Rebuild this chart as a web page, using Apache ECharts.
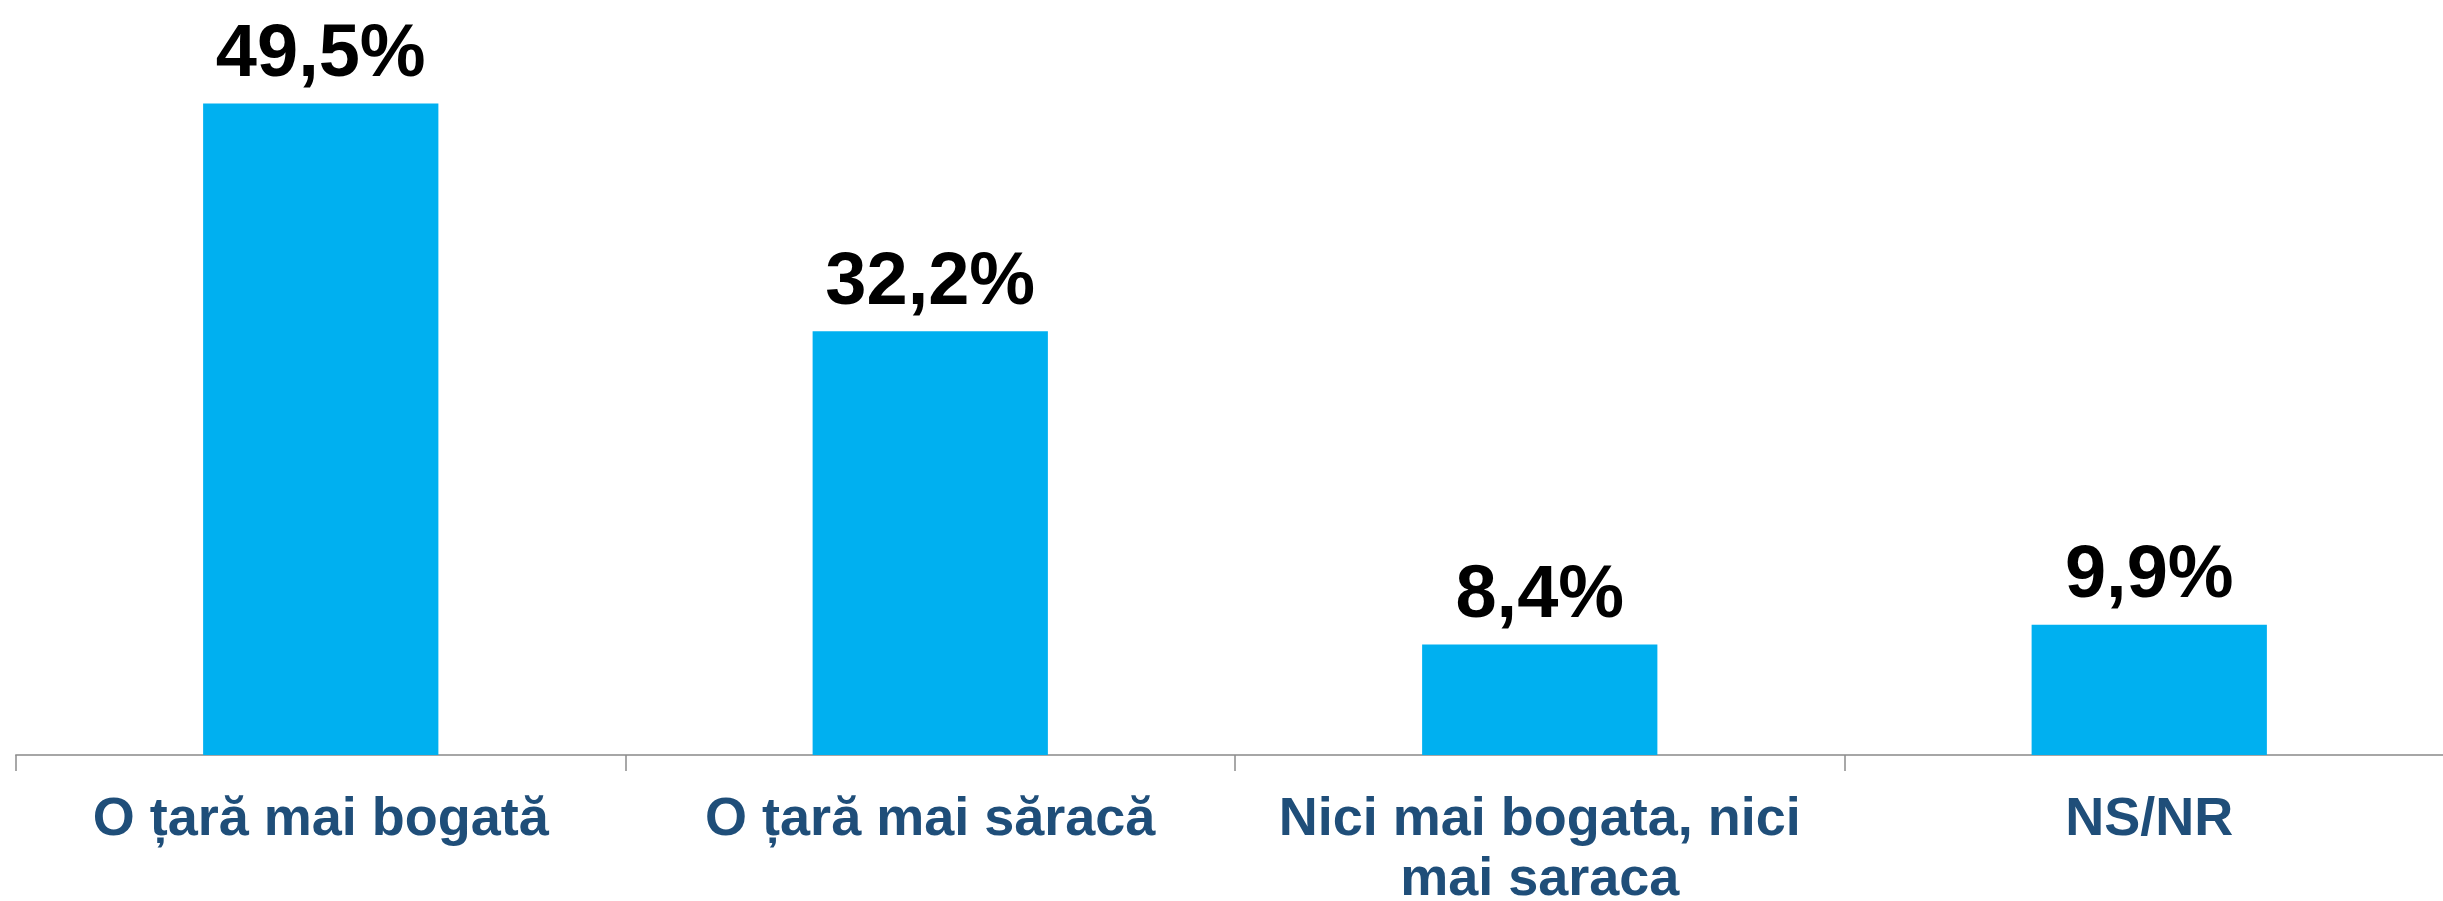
<!DOCTYPE html>
<html>
<head>
<meta charset="utf-8">
<script src="https://cdn.jsdelivr.net/npm/echarts@6/dist/echarts.min.js"></script>
<style>
  html, body { margin: 0; padding: 0; background: #fff; }
  #chart { width: 2443px; height: 901px; }
</style>
</head>
<body>
<div id="chart"></div>
<script>
const categories = ['O țară mai bogată', 'O țară mai săracă', 'Nici mai bogata, nici\nmai saraca', 'NS/NR'];
const values = [49.5, 32.2, 8.4, 9.9];

const chart = echarts.init(document.getElementById('chart'));
const fontFamily = "'Liberation Sans', Arial, sans-serif";

chart.setOption({
  animation: false,
  backgroundColor: '#ffffff',
  grid: {
    left: 16,
    top: 31,
    width: 2438,
    bottom: 146,
    containLabel: false,
    outerBoundsMode: 'none'
  },
  xAxis: {
    type: 'category',
    data: categories,
    axisLine: {
      show: true,
      lineStyle: { color: '#a6a6a6', width: 2 }
    },
    axisTick: {
      show: true,
      length: 16,
      lineStyle: { color: '#8c8c8c', width: 1.5 }
    },
    axisLabel: {
      interval: 0,
      margin: 35,
      color: '#1f4e79',
      fontFamily,
      fontWeight: 'bold',
      fontSize: 54,
      lineHeight: 60
    }
  },
  yAxis: {
    type: 'value',
    min: 0,
    max: 55,
    show: false,
    splitLine: { show: false }
  },
  series: [{
    type: 'bar',
    data: values,
    barWidth: '38.6%',
    itemStyle: { color: '#00b0f0' },
    label: {
      show: true,
      position: 'top',
      distance: 11,
      color: '#000000',
      fontFamily,
      fontWeight: 'bold',
      fontSize: 74,
      formatter: p => p.value.toFixed(1).replace('.', ',') + '%'
    }
  }]
});
</script>
</body>
</html>
